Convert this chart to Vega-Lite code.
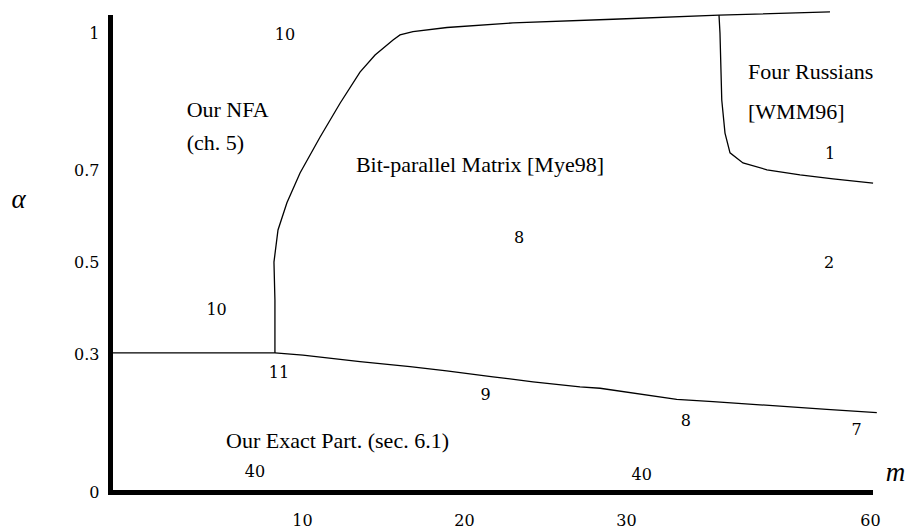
{
  "$schema": "https://vega.github.io/schema/vega-lite/v6.json",
  "autosize": "none",
  "width": 760,
  "height": 475,
  "padding": {"left": 110, "top": 17, "right": 39, "bottom": 39},
  "background": "white",
  "config": {"view": {"stroke": null}},
  "datasets": {
    "curves": [
      {"seg": "h", "ord": 1, "m": -1.85, "alpha": 0.303},
      {"seg": "h", "ord": 2, "m": 8.33, "alpha": 0.303},
      {"seg": "a", "ord": 1, "m": 8.33, "alpha": 0.303},
      {"seg": "a", "ord": 2, "m": 8.33, "alpha": 0.418},
      {"seg": "a", "ord": 3, "m": 8.27, "alpha": 0.501},
      {"seg": "a", "ord": 4, "m": 8.52, "alpha": 0.571},
      {"seg": "a", "ord": 5, "m": 9.07, "alpha": 0.630},
      {"seg": "a", "ord": 6, "m": 9.88, "alpha": 0.695},
      {"seg": "a", "ord": 7, "m": 11.11, "alpha": 0.773},
      {"seg": "a", "ord": 8, "m": 12.35, "alpha": 0.847},
      {"seg": "a", "ord": 9, "m": 13.58, "alpha": 0.915},
      {"seg": "a", "ord": 10, "m": 14.51, "alpha": 0.952},
      {"seg": "a", "ord": 11, "m": 15.62, "alpha": 0.985},
      {"seg": "a", "ord": 12, "m": 16.05, "alpha": 0.996},
      {"seg": "a", "ord": 13, "m": 16.85, "alpha": 1.003},
      {"seg": "a", "ord": 14, "m": 18.95, "alpha": 1.012},
      {"seg": "a", "ord": 15, "m": 23.02, "alpha": 1.022},
      {"seg": "a", "ord": 16, "m": 29.20, "alpha": 1.030},
      {"seg": "a", "ord": 17, "m": 35.74, "alpha": 1.039},
      {"seg": "a", "ord": 18, "m": 42.59, "alpha": 1.046},
      {"seg": "b", "ord": 1, "m": 35.74, "alpha": 1.039},
      {"seg": "b", "ord": 2, "m": 35.80, "alpha": 1.000},
      {"seg": "b", "ord": 3, "m": 35.91, "alpha": 0.854},
      {"seg": "b", "ord": 4, "m": 36.11, "alpha": 0.782},
      {"seg": "b", "ord": 5, "m": 36.42, "alpha": 0.739},
      {"seg": "b", "ord": 6, "m": 37.22, "alpha": 0.717},
      {"seg": "b", "ord": 7, "m": 38.70, "alpha": 0.702},
      {"seg": "b", "ord": 8, "m": 40.74, "alpha": 0.691},
      {"seg": "b", "ord": 9, "m": 42.78, "alpha": 0.682},
      {"seg": "b", "ord": 10, "m": 45.25, "alpha": 0.673},
      {"seg": "c", "ord": 1, "m": 8.33, "alpha": 0.303},
      {"seg": "c", "ord": 2, "m": 10.06, "alpha": 0.298},
      {"seg": "c", "ord": 3, "m": 13.58, "alpha": 0.284},
      {"seg": "c", "ord": 4, "m": 16.67, "alpha": 0.273},
      {"seg": "c", "ord": 5, "m": 18.93, "alpha": 0.264},
      {"seg": "c", "ord": 6, "m": 21.79, "alpha": 0.251},
      {"seg": "c", "ord": 7, "m": 24.26, "alpha": 0.240},
      {"seg": "c", "ord": 8, "m": 27.16, "alpha": 0.229},
      {"seg": "c", "ord": 9, "m": 28.40, "alpha": 0.226},
      {"seg": "c", "ord": 10, "m": 33.13, "alpha": 0.202},
      {"seg": "c", "ord": 11, "m": 35.37, "alpha": 0.197},
      {"seg": "c", "ord": 12, "m": 38.27, "alpha": 0.190},
      {"seg": "c", "ord": 13, "m": 42.39, "alpha": 0.180},
      {"seg": "c", "ord": 14, "m": 45.48, "alpha": 0.173}
    ],
    "numbers": [
      {"m": 8.95, "alpha": 0.985, "text": "10"},
      {"m": 4.73, "alpha": 0.386, "text": "10"},
      {"m": 8.58, "alpha": 0.248, "text": "11"},
      {"m": 7.10, "alpha": 0.033, "text": "40"},
      {"m": 21.34, "alpha": 0.200, "text": "9"},
      {"m": 33.70, "alpha": 0.144, "text": "8"},
      {"m": 44.24, "alpha": 0.124, "text": "7"},
      {"m": 30.97, "alpha": 0.026, "text": "40"},
      {"m": 23.40, "alpha": 0.542, "text": "8"},
      {"m": 42.53, "alpha": 0.488, "text": "2"},
      {"m": 42.59, "alpha": 0.725, "text": "1"}
    ],
    "regions": [
      {"m": 2.88, "alpha": 0.818, "text": "Our NFA"},
      {"m": 2.88, "alpha": 0.745, "text": "(ch. 5)"},
      {"m": 13.33, "alpha": 0.698, "text": "Bit-parallel Matrix [Mye98]"},
      {"m": 37.53, "alpha": 0.899, "text": "Four Russians"},
      {"m": 37.53, "alpha": 0.812, "text": "[WMM96]"},
      {"m": 5.31, "alpha": 0.096, "text": "Our Exact Part. (sec. 6.1)"}
    ]
  },
  "encoding": {
    "x": {
      "field": "m", "type": "quantitative",
      "scale": {"domain": [-1.85, 45.06], "nice": false, "zero": false},
      "axis": {
        "values": [10, 20, 30, 45.06],
        "labelExpr": "datum.value > 40 ? '60' : datum.label",
        "grid": false, "ticks": false, "tickSize": 0,
        "domainColor": "black", "domainWidth": 5, "domainCap": "square",
        "labelFont": "DejaVu Serif", "labelFontSize": 16, "labelColor": "black",
        "labelPadding": 20, "labelFlush": false, "labelOverlap": false, "labelBound": false,
        "title": "m", "titleFont": "Liberation Serif", "titleFontStyle": "italic", "titleFontWeight": "normal",
        "titleFontSize": 27, "titleColor": "black", "titleX": 785, "titleY": -12,
        "titleAlign": "center", "titleBaseline": "alphabetic", "titleAngle": 0
      }
    },
    "y": {
      "field": "alpha", "type": "quantitative",
      "scale": {"domain": [0, 1.0349], "nice": false, "zero": false},
      "axis": {
        "values": [0, 0.3, 0.5, 0.7, 1],
        "format": "~g",
        "grid": false, "ticks": false, "tickSize": 0,
        "domainColor": "black", "domainWidth": 5, "domainCap": "square",
        "labelFont": "DejaVu Serif", "labelFontSize": 16, "labelColor": "black",
        "labelPadding": 11, "labelAlign": "right", "labelFlush": false, "labelOverlap": false, "labelBound": false,
        "title": "α", "titleFont": "Liberation Serif", "titleFontStyle": "italic", "titleFontWeight": "normal",
        "titleFontSize": 27, "titleColor": "black", "titleX": -92, "titleY": 190,
        "titleAlign": "center", "titleBaseline": "alphabetic", "titleAngle": 0
      }
    }
  },
  "layer": [
    {
      "data": {"name": "curves"},
      "mark": {"type": "line", "color": "black", "strokeWidth": 1.3, "interpolate": "linear"},
      "encoding": {
        "detail": {"field": "seg", "type": "nominal"},
        "order": {"field": "ord", "type": "quantitative"}
      }
    },
    {
      "data": {"name": "numbers"},
      "mark": {"type": "text", "font": "DejaVu Serif", "fontSize": 16, "color": "black", "align": "center", "baseline": "alphabetic"},
      "encoding": {
        "text": {"field": "text", "type": "nominal"}
      }
    },
    {
      "data": {"name": "regions"},
      "mark": {"type": "text", "font": "Liberation Serif", "fontSize": 22, "color": "black", "align": "left", "baseline": "alphabetic"},
      "encoding": {
        "text": {"field": "text", "type": "nominal"}
      }
    }
  ]
}
